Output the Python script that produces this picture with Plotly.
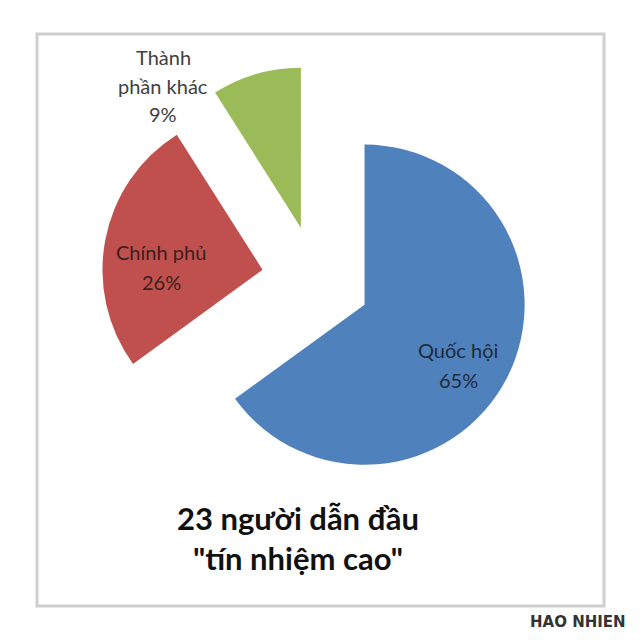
import plotly.graph_objects as go

labels = ["Quốc hội", "Chính phủ", "Thành phần khác"]
values = [65, 26, 9]
colors = ["#4F81BD", "#C0504D", "#9BBB59"]
pulls = [0.34, 0.34, 0.34]
title_lines = ["23 người dẫn đầu", "\"tín nhiệm cao\""]
watermark = "HAO NHIEN"

FONT = "Lato, Open Sans, sans-serif"
pct = [f"{v}%" for v in values]

fig = go.Figure(go.Pie(
    labels=labels,
    values=values,
    sort=False,
    direction="clockwise",
    rotation=0,
    pull=pulls,
    marker=dict(colors=colors, line=dict(width=0)),
    textinfo="none",
    hoverinfo="label+percent",
    domain=dict(x=[0.1586, 0.829], y=[0.2273, 0.8977]),
    showlegend=False,
))


def px(x, y):
    return x / 640, 1 - y / 640


def add_text(x, y, txt, size, color, bold=False, family=FONT):
    ax, ay = px(x, y)
    fig.add_annotation(
        x=ax, y=ay, xref="paper", yref="paper",
        text=("<b>" + txt + "</b>") if bold else txt,
        showarrow=False, xanchor="center", yanchor="middle",
        font=dict(family=family, size=size, color=color),
        align="center",
    )


# slice labels (name line + percent line)
add_text(458, 350, labels[0], 20, "#1f2a3a")
add_text(458, 380, pct[0], 20, "#1f2a3a")
add_text(161, 252, labels[1], 20, "#3a1f1f")
add_text(161, 282, pct[1], 20, "#3a1f1f")
add_text(163, 57, "Thành", 20, "#404040")
add_text(163, 86, "phần khác", 20, "#404040")
add_text(163, 114, pct[2], 20, "#404040")

# title
add_text(298, 538, "<br>".join(title_lines), 31, "#111111", bold=True)

# watermark
add_text(578, 622, watermark, 15, "#333333", bold=True, family="DejaVu Sans, sans-serif")

x0, y0 = px(37, 606)
x1, y1 = px(604, 34)
fig.add_shape(
    type="rect", xref="paper", yref="paper",
    x0=x0, x1=x1, y0=y0, y1=y1,
    line=dict(color="#cfcfcf", width=3),
)

fig.update_layout(
    width=640, height=640,
    margin=dict(l=0, r=0, t=0, b=0),
    paper_bgcolor="white",
    plot_bgcolor="white",
)

fig.write_html("out.html", config={"displayModeBar": False},
               post_script="document.body.style.margin='0';")
